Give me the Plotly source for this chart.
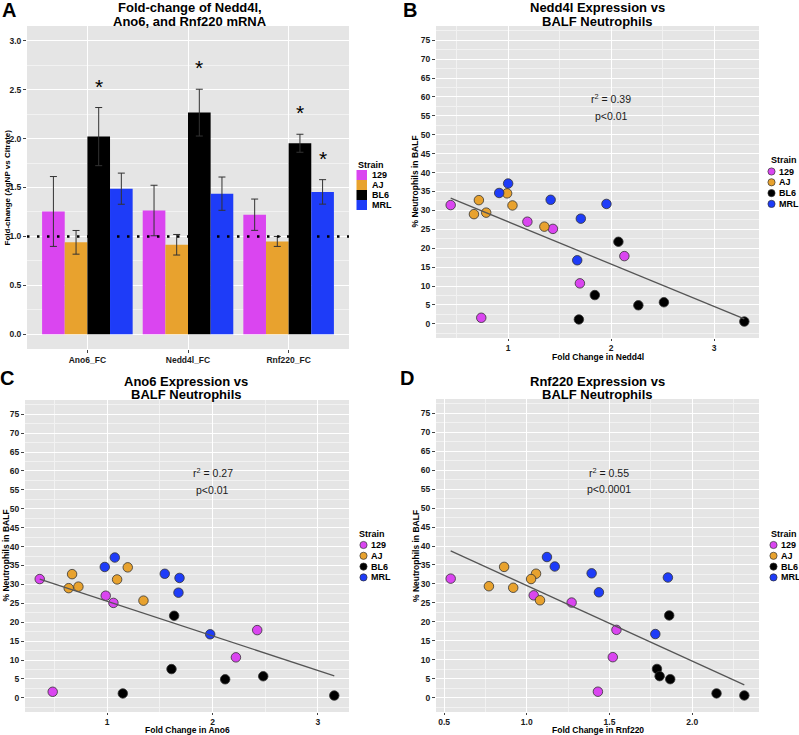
import numpy as np
import plotly.graph_objects as go

# ---------------- data ----------------
strains = ["129", "AJ", "BL6", "MRL"]
strain_colors = ["#DA45F0", "#E8A22E", "#000000", "#1E3CF8"]

genes = ["Ano6_FC", "Nedd4l_FC", "Rnf220_FC"]
fc_mean_129 = [1.255, 1.265, 1.222]
fc_mean_AJ = [0.940, 0.915, 0.949]
fc_mean_BL6 = [2.020, 2.265, 1.952]
fc_mean_MRL = [1.488, 1.437, 1.455]
fc_err_129 = [0.357, 0.258, 0.160]
fc_err_AJ = [0.121, 0.105, 0.051]
fc_err_BL6 = [0.297, 0.239, 0.092]
fc_err_MRL = [0.159, 0.170, 0.125]
significant = [("Ano6_FC", "BL6"), ("Nedd4l_FC", "BL6"), ("Rnf220_FC", "BL6"), ("Rnf220_FC", "MRL")]

neut_129 = [31.4, 27.0, 25.1, 17.9, 10.7, 1.6]
neut_AJ = [34.5, 32.7, 31.3, 29.4, 29.0, 25.7]
neut_BL6 = [21.7, 7.6, 5.7, 4.9, 1.15, 0.6]
neut_MRL = [37.1, 34.6, 32.8, 31.7, 27.8, 16.8]

nedd4l_129 = [0.442, 1.187, 1.435, 2.129, 1.697, 0.739]
nedd4l_AJ = [0.990, 0.716, 1.042, 0.787, 0.668, 1.352]
nedd4l_BL6 = [2.071, 1.842, 2.513, 2.265, 1.687, 3.294]
nedd4l_MRL = [1.000, 0.913, 1.413, 1.955, 1.706, 1.671]

ano6_129 = [0.361, 0.987, 1.060, 2.424, 2.222, 0.484]
ano6_AJ = [1.196, 0.668, 1.095, 0.728, 0.636, 1.345]
ano6_BL6 = [1.636, 1.611, 2.481, 2.120, 1.149, 3.155]
ano6_MRL = [1.073, 0.978, 1.547, 1.687, 1.677, 1.978]

rnf220_129 = [0.540, 1.042, 1.271, 1.542, 1.520, 1.430]
rnf220_AJ = [0.863, 1.056, 1.026, 0.771, 0.918, 1.080]
rnf220_BL6 = [1.861, 1.787, 1.803, 1.867, 2.147, 2.315]
rnf220_MRL = [1.122, 1.169, 1.392, 1.853, 1.436, 1.777]

r2_labels = ["0.39", "0.27", "0.55"]
p_labels = ["p<0.01", "p<0.01", "p<0.0001"]
scatter_titles = [("Nedd4l Expression vs", "BALF Neutrophils"),
                  ("Ano6 Expression vs", "BALF Neutrophils"),
                  ("Rnf220 Expression vs", "BALF Neutrophils")]
scatter_xtitles = ["Fold Change in Nedd4l", "Fold Change in Ano6", "Fold Change in Rnf220"]

fc_mean = {"129": fc_mean_129, "AJ": fc_mean_AJ, "BL6": fc_mean_BL6, "MRL": fc_mean_MRL}
fc_err = {"129": fc_err_129, "AJ": fc_err_AJ, "BL6": fc_err_BL6, "MRL": fc_err_MRL}
neut = {"129": neut_129, "AJ": neut_AJ, "BL6": neut_BL6, "MRL": neut_MRL}
gene_x = [
    {"129": nedd4l_129, "AJ": nedd4l_AJ, "BL6": nedd4l_BL6, "MRL": nedd4l_MRL},
    {"129": ano6_129, "AJ": ano6_AJ, "BL6": ano6_BL6, "MRL": ano6_MRL},
    {"129": rnf220_129, "AJ": rnf220_AJ, "BL6": rnf220_BL6, "MRL": rnf220_MRL},
]

# ---------------- layout helpers ----------------
W, H = 799, 735
FONT = "Liberation Sans, Arial, Helvetica, sans-serif"


def px(x):
    return x / W


def py(y):
    return 1 - y / H


# panel pixel boxes: (left, right, top, bottom)
box_A = (27, 349, 26, 349)
box_B = (436, 759, 26, 338)
box_C = (25, 349, 400, 712)
box_D = (436, 759, 399, 712)

fig = go.Figure()
annotations = []
shapes = []

# ---------------- panel A: grouped bars ----------------
for s, c in zip(strains, strain_colors):
    fig.add_trace(go.Bar(
        x=genes, y=fc_mean[s], name=s, marker=dict(color=c, line=dict(width=0)),
        error_y=dict(type="data", array=fc_err[s], color="#333333", thickness=1, width=3.5),
        xaxis="x", yaxis="y", showlegend=False))

ngroup = len(strains)
bw = 0.9 / ngroup
for g, s in significant:
    gi = genes.index(g)
    si = strains.index(s)
    xpos = gi - 0.45 + bw * (si + 0.5)
    ypos = fc_mean[s][gi] + fc_err[s][gi] + 0.27
    annotations.append(dict(x=xpos, y=ypos, xref="x", yref="y", text="*", showarrow=False,
                            yanchor="middle", yshift=-5,
                            font=dict(family=FONT, size=21, color="black")))

shapes.append(dict(type="line", xref="x domain", x0=0, x1=1, yref="y", y0=1, y1=1,
                   line=dict(color="black", width=2.5, dash="2.5px,7.5px"), layer="above"))

# ---------------- panels B, C, D: scatter ----------------
axis_ids = ["2", "3", "4"]
for k, (ax, gx) in enumerate(zip(axis_ids, gene_x)):
    for s, c in zip(strains, strain_colors):
        fig.add_trace(go.Scatter(
            x=gx[s], y=neut[s], mode="markers", name=s,
            marker=dict(size=9.5, color=c, line=dict(color="#333333", width=0.8)),
            xaxis="x" + ax, yaxis="y" + ax, showlegend=False))
    allx = np.concatenate([gx[s] for s in strains])
    ally = np.concatenate([neut[s] for s in strains])
    slope, inter = np.polyfit(allx, ally, 1)
    xs = np.array([allx.min(), allx.max()])
    fig.add_trace(go.Scatter(x=xs, y=slope * xs + inter, mode="lines",
                             line=dict(color="#555555", width=1.3),
                             xaxis="x" + ax, yaxis="y" + ax, showlegend=False))

# ---------------- axes ----------------
tickfont = dict(family=FONT, size=8.5, color="#1a1a1a", weight="bold")
common = dict(showgrid=True, gridcolor="white", gridwidth=1, zeroline=False, showline=False,
              ticks="outside", ticklen=3, tickcolor="#444444", tickwidth=1, tickfont=tickfont)


def xdom(b):
    return [px(b[0]), px(b[1])]


def ydom(b):
    return [py(b[3]), py(b[2])]


def xr(gx):
    allx = np.concatenate([gx[s] for s in strains])
    lo, hi = allx.min(), allx.max()
    e = 0.05 * (hi - lo)
    return [lo - e, hi + e]


layout = dict(
    width=W, height=H, margin=dict(l=0, r=0, t=0, b=0),
    paper_bgcolor="white", plot_bgcolor="#E5E5E5",
    barmode="group", bargap=0.1, bargroupgap=0,
    font=dict(family=FONT),
    xaxis=dict(common, domain=xdom(box_A), anchor="y", type="category",
               categoryorder="array", categoryarray=genes, range=[-0.6, 2.6]),
    yaxis=dict(common, domain=ydom(box_A), anchor="x", range=[-0.15, 3.15], dtick=0.5, tick0=0,
               tickformat=".1f", minor=dict(dtick=0.25, showgrid=True, gridcolor="#F2F2F2", gridwidth=0.6)),
)
boxes = [box_B, box_C, box_D]
for k, ax in enumerate(axis_ids):
    b = boxes[k]
    xminor = 0.5 if k < 2 else 0.25
    xdt = 1 if k < 2 else 0.5
    layout["xaxis" + ax] = dict(common, domain=xdom(b), anchor="y" + ax, range=xr(gene_x[k]),
                                dtick=xdt, tick0=0, tickformat="" if k < 2 else ".1f",
                                ticklen=2,
                                minor=dict(dtick=xminor, showgrid=True, gridcolor="#F2F2F2", gridwidth=0.6))
    layout["yaxis" + ax] = dict(common, domain=ydom(b), anchor="x" + ax, range=[-3.75, 78.75],
                                dtick=5, tick0=0,
                                minor=dict(dtick=2.5, showgrid=True, gridcolor="#F2F2F2", gridwidth=0.6))

# ---------------- texts ----------------
def ptext(x, y, text, size, bold=True, angle=0, xanchor="center", yanchor="middle", color="black"):
    t = "<b>%s</b>" % text if bold else text
    annotations.append(dict(x=px(x), y=py(y), xref="paper", yref="paper", text=t, showarrow=False,
                            xanchor=xanchor, yanchor=yanchor, textangle=angle,
                            font=dict(family=FONT, size=size, color=color)))


# panel letters
ptext(9, 10, "A", 20)
ptext(410, 10, "B", 20)
ptext(7, 378, "C", 20)
ptext(407, 378, "D", 20)

# titles
ptext(190, 8, "Fold-change of Nedd4l,", 13)
ptext(190, 21.5, "Ano6, and Rnf220 mRNA", 13)
title_pos = [(597, 8, 21.5), (186, 381, 394.5), (597, 381, 394.5)]
for (l1, l2), (cx, y1, y2) in zip(scatter_titles, title_pos):
    ptext(cx, y1, l1, 13)
    ptext(cx, y2, l2, 13)

# axis titles
ptext(6.5, 188, "Fold-change (AgNP vs Citrate)", 8, angle=-90)
ptext(414.5, 182, "% Neutrophils in BALF", 8.5, angle=-90)
ptext(5.5, 556, "% Neutrophils in BALF", 8.5, angle=-90)
ptext(416, 556, "% Neutrophils in BALF", 8.5, angle=-90)
xt_pos = [(597.5, 357), (187, 730), (597.5, 730)]
for t, (cx, cy) in zip(scatter_xtitles, xt_pos):
    ptext(cx, cy, t, 8.5)

# r2 / p annotations (data coordinates)
stat_x = [2.0, 2.0, 1.5]
for k, ax in enumerate(axis_ids):
    annotations.append(dict(x=stat_x[k], y=59.5, xref="x" + ax, yref="y" + ax,
                            text="r<sup>2</sup> = " + r2_labels[k], showarrow=False,
                            font=dict(family=FONT, size=10.5, color="#1a1a1a")))
    annotations.append(dict(x=stat_x[k], y=54.9, xref="x" + ax, yref="y" + ax,
                            text=p_labels[k], showarrow=False,
                            font=dict(family=FONT, size=10.5, color="#1a1a1a")))

# ---------------- custom legends ----------------
# A: squares
ptext(356, 165.5, "Strain", 9, xanchor="left")
for i, (s, c) in enumerate(zip(strains, strain_colors)):
    top = 170 + i * 10
    shapes.append(dict(type="rect", xref="paper", yref="paper", x0=px(356.5), x1=px(367),
                       y0=py(top + 10), y1=py(top), fillcolor=c, line=dict(width=0), layer="above"))
    ptext(369.5, top + 5, s, 9, xanchor="left")

# B, C, D: circles
leg_pos = [(769, 160.5, 771.5), (357, 534, 363.5), (769, 534, 773.5)]
for (lx, ty, cx) in leg_pos:
    ptext(lx, ty, "Strain", 9, xanchor="left")
    for i, (s, c) in enumerate(zip(strains, strain_colors)):
        cy = ty + 11 + i * 10.8
        r = 3.6
        shapes.append(dict(type="circle", xref="paper", yref="paper",
                           x0=px(cx - r), x1=px(cx + r), y0=py(cy + r), y1=py(cy - r),
                           fillcolor=c, line=dict(color="#333333", width=0.7), layer="above"))
        ptext(cx + 5, cy, s, 9, xanchor="left")

layout["annotations"] = annotations
layout["shapes"] = shapes
fig.update_layout(**layout)
fig.write_html("out.html", config={"displayModeBar": False},
               post_script="document.body.style.margin='0px';document.body.style.padding='0px';")
